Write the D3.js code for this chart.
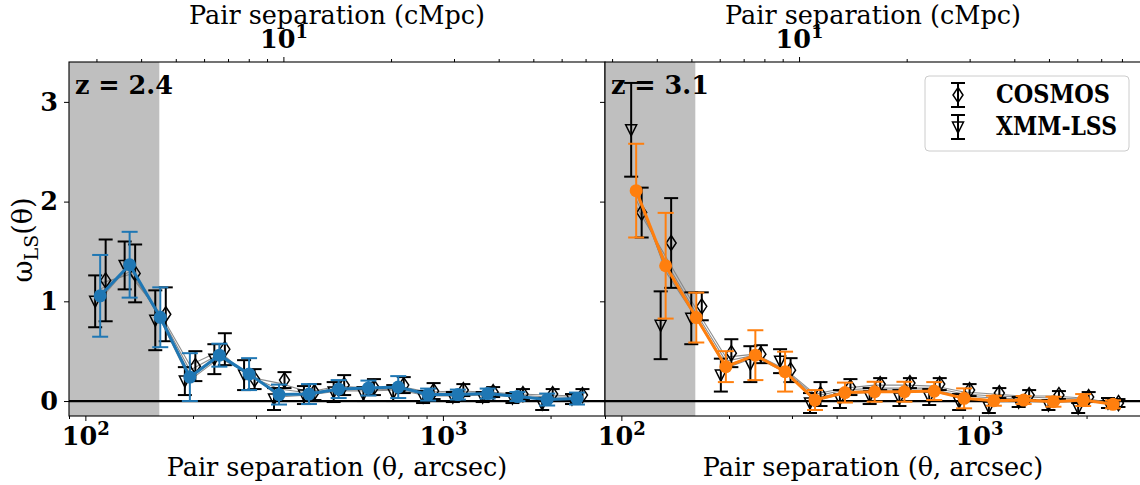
<!DOCTYPE html>
<html>
<head>
<meta charset="utf-8">
<script src="https://cdn.jsdelivr.net/npm/d3@7"></script>
<style>
  body { margin: 0; background: #fff; }
  svg { display: block; }
  text { font-family: "DejaVu Serif", serif; fill: #000; }
</style>
</head>
<body>
<svg id="chart" width="1140" height="485"></svg>
<script>
// Angular bin centres (arcsec), shared by both redshift panels
const arcsec = [110, 133, 162, 196, 237, 287, 348, 422, 511, 619, 750, 909, 1101, 1334, 1616, 1957, 2371];

// z = 2.4 : combined estimate, per-field estimates and individual realisations
const w24      = [1.055, 1.367, 0.84, 0.24, 0.46, 0.27, 0.065, 0.07, 0.12, 0.13, 0.14, 0.065, 0.065, 0.075, 0.045, 0.015, 0.025];
const w24Err   = [0.41, 0.33, 0.30, 0.24, 0.115, 0.16, 0.10, 0.10, 0.09, 0.075, 0.11, 0.06, 0.05, 0.05, 0.045, 0.06, 0.06];
const cosmos24    = [1.21, 1.28, 0.87, 0.35, 0.52, 0.22, 0.21, 0.09, 0.16, 0.14, 0.16, 0.10, 0.11, 0.09, 0.07, 0.07, 0.06];
const cosmos24Err = [0.41, 0.29, 0.27, 0.15, 0.16, 0.10, 0.08, 0.08, 0.10, 0.08, 0.08, 0.08, 0.06, 0.05, 0.05, 0.05, 0.06];
const xmm24       = [1.00, 1.36, 0.81, 0.20, 0.42, 0.26, 0.02, 0.06, 0.09, 0.07, 0.08, 0.04, 0.04, 0.04, 0.03, -0.03, 0.02];
const xmm24Err    = [0.26, 0.24, 0.30, 0.14, 0.15, 0.15, 0.11, 0.09, 0.10, 0.07, 0.08, 0.06, 0.05, 0.05, 0.05, 0.06, 0.05];
const runs24 = [
  [1.18, 1.27, 0.88, 0.36, 0.50, 0.24, 0.18, 0.09, 0.15, 0.13, 0.15, 0.09, 0.10, 0.09, 0.07, 0.06, 0.05],
  [1.12, 1.30, 0.86, 0.31, 0.47, 0.25, 0.12, 0.08, 0.13, 0.12, 0.14, 0.08, 0.08, 0.08, 0.06, 0.04, 0.04],
  [1.08, 1.34, 0.83, 0.27, 0.44, 0.27, 0.07, 0.07, 0.11, 0.11, 0.12, 0.06, 0.06, 0.07, 0.05, 0.02, 0.03],
  [1.02, 1.36, 0.82, 0.21, 0.43, 0.28, 0.04, 0.06, 0.10, 0.10, 0.11, 0.05, 0.05, 0.06, 0.04, 0.01, 0.02]
];

// z = 3.1
const w31      = [2.11, 1.357, 0.837, 0.345, 0.46, 0.295, 0.01, 0.085, 0.093, 0.093, 0.10, 0.027, 0.003, 0.01, -0.007, 0.01, -0.033];
const w31Err   = [0.47, 0.53, 0.25, 0.155, 0.25, 0.20, 0.10, 0.10, 0.10, 0.10, 0.09, 0.10, 0.05, 0.04, 0.05, 0.06, 0.04];
const cosmos31    = [1.89, 1.585, 0.95, 0.48, 0.47, 0.31, 0.07, 0.14, 0.17, 0.18, 0.17, 0.11, 0.08, 0.06, 0.06, 0.04, -0.02];
const cosmos31Err = [0.25, 0.45, 0.14, 0.14, 0.09, 0.12, 0.12, 0.08, 0.06, 0.05, 0.06, 0.06, 0.05, 0.05, 0.04, 0.05, 0.04];
const xmm31       = [2.72, 0.76, 0.83, 0.26, 0.37, 0.40, -0.02, 0.02, 0.05, 0.03, 0.04, -0.01, -0.06, -0.01, -0.04, -0.07, -0.02];
const xmm31Err    = [0.47, 0.34, 0.26, 0.165, 0.18, 0.12, 0.10, 0.09, 0.08, 0.08, 0.08, 0.08, 0.06, 0.05, 0.05, 0.05, 0.05];
const runs31 = [
  [1.95, 1.45, 0.92, 0.44, 0.47, 0.32, 0.07, 0.13, 0.16, 0.16, 0.15, 0.09, 0.07, 0.05, 0.05, 0.03, -0.02],
  [2.02, 1.40, 0.88, 0.40, 0.46, 0.31, 0.05, 0.11, 0.13, 0.13, 0.13, 0.07, 0.05, 0.04, 0.03, 0.02, -0.02],
  [2.08, 1.33, 0.85, 0.36, 0.45, 0.30, 0.03, 0.09, 0.11, 0.11, 0.11, 0.05, 0.03, 0.02, 0.01, 0.01, -0.03],
  [2.15, 1.30, 0.83, 0.33, 0.44, 0.29, 0.01, 0.07, 0.09, 0.09, 0.09, 0.03, 0.01, 0.01, -0.01, 0.00, -0.03]
];

// Axis settings
const thetaRange = [90, 2840];          // arcsec
const shadeLimit = 161;                 // arcsec, small-scale exclusion
const yRange = [-0.15, 3.4];
const yTicks = [0, 1, 2, 3];
const minorMultipliers = [2, 3, 4, 5, 6, 7, 8, 9];
// arcsec corresponding to 10 cMpc at each redshift
const arcsecPer10cMpc = { "2.4": 358, "3.1": 314 };

const panels = [
  { z: "2.4", mean: w24, meanErr: w24Err, cosmos: cosmos24, cosmosErr: cosmos24Err, xmm: xmm24, xmmErr: xmm24Err, runs: runs24, color: "#1f77b4", x0: 69, x1: 605, yLabels: true },
  { z: "3.1", mean: w31, meanErr: w31Err, cosmos: cosmos31, cosmosErr: cosmos31Err, xmm: xmm31, xmmErr: xmm31Err, runs: runs31, color: "#ff7f0e", x0: 605, x1: 1141, yLabels: false }
];

const FS = 25.5;      // base font size
const svg = d3.select("#chart");
const plotTop = 62, plotBottom = 416;
const y = d3.scaleLinear().domain(yRange).range([plotBottom, plotTop]);

function logTicks(domain) {
  const out = { major: [], minor: [] };
  for (let e = -2; e <= 5; e++) {
    const p = Math.pow(10, e);
    if (p >= domain[0] && p <= domain[1]) out.major.push(p);
    minorMultipliers.forEach(m => {
      const v = m * p;
      if (v >= domain[0] && v <= domain[1]) out.minor.push(v);
    });
  }
  return out;
}

function powerLabel(sel, base, exp) {
  sel.text(null);
  sel.append("tspan").text(base);
  sel.append("tspan").attr("dy", -10).attr("font-size", 18).text(exp);
}

const diamondPath = "M0,-7.5L5,0L0,7.5L-5,0Z";
const trianglePath = "M-5.5,-5L5.5,-5L0,6Z";

function errorBars(g, xs, vals, errs, color, dx, cap, width) {
  const idx = d3.range(vals.length);
  const eb = g.append("g").attr("stroke", color).attr("stroke-width", width).attr("fill", "none");
  eb.selectAll("line.v").data(idx).join("line").attr("class", "v")
    .attr("x1", i => xs(arcsec[i]) + dx).attr("x2", i => xs(arcsec[i]) + dx)
    .attr("y1", i => y(vals[i] - errs[i])).attr("y2", i => y(vals[i] + errs[i]));
  eb.selectAll("line.lo").data(idx).join("line").attr("class", "lo")
    .attr("x1", i => xs(arcsec[i]) + dx - cap).attr("x2", i => xs(arcsec[i]) + dx + cap)
    .attr("y1", i => y(vals[i] - errs[i])).attr("y2", i => y(vals[i] - errs[i]));
  eb.selectAll("line.hi").data(idx).join("line").attr("class", "hi")
    .attr("x1", i => xs(arcsec[i]) + dx - cap).attr("x2", i => xs(arcsec[i]) + dx + cap)
    .attr("y1", i => y(vals[i] + errs[i])).attr("y2", i => y(vals[i] + errs[i]));
}

panels.forEach(p => {
  const x = d3.scaleLog().domain(thetaRange).range([p.x0, p.x1]);
  const f = 10 / arcsecPer10cMpc[p.z];
  const xTop = d3.scaleLog().domain([thetaRange[0] * f, thetaRange[1] * f]).range([p.x0, p.x1]);
  const g = svg.append("g");
  const clipId = "clip" + p.z.replace(".", "");
  g.append("clipPath").attr("id", clipId).append("rect")
    .attr("x", p.x0).attr("y", plotTop).attr("width", p.x1 - p.x0).attr("height", plotBottom - plotTop);

  const plot = g.append("g").attr("clip-path", `url(#${clipId})`);
  // excluded small scales
  plot.append("rect").attr("x", x(thetaRange[0])).attr("y", plotTop)
    .attr("width", x(shadeLimit) - x(thetaRange[0])).attr("height", plotBottom - plotTop)
    .attr("fill", "#bfbfbf");
  // zero line
  plot.append("line").attr("x1", p.x0).attr("x2", p.x1).attr("y1", y(0)).attr("y2", y(0))
    .attr("stroke", "#000").attr("stroke-width", 2.2);

  // individual realisations
  const line = d3.line().x((d, i) => x(arcsec[i])).y(d => y(d));
  plot.selectAll("path.run").data(p.runs).join("path").attr("class", "run")
    .attr("d", line).attr("fill", "none").attr("stroke", "#7f7f7f").attr("stroke-width", 1.1).attr("opacity", 0.9);

  // per-field measurements
  errorBars(plot, x, p.xmm, p.xmmErr, "#000", -5, 7, 2);
  errorBars(plot, x, p.cosmos, p.cosmosErr, "#000", 5.5, 7, 2);
  plot.selectAll("path.xmm").data(d3.range(p.xmm.length)).join("path").attr("class", "xmm")
    .attr("d", trianglePath)
    .attr("transform", i => `translate(${x(arcsec[i]) - 5},${y(p.xmm[i])})`)
    .attr("fill", "none").attr("stroke", "#000").attr("stroke-width", 1.5);
  plot.selectAll("path.cos").data(d3.range(p.cosmos.length)).join("path").attr("class", "cos")
    .attr("d", diamondPath)
    .attr("transform", i => `translate(${x(arcsec[i]) + 5.5},${y(p.cosmos[i])})`)
    .attr("fill", "none").attr("stroke", "#000").attr("stroke-width", 1.5);

  // combined estimate
  errorBars(plot, x, p.mean, p.meanErr, p.color, 0, 8, 2);
  plot.append("path").datum(p.mean).attr("d", line)
    .attr("fill", "none").attr("stroke", p.color).attr("stroke-width", 3);
  plot.selectAll("circle.m").data(p.mean).join("circle").attr("class", "m")
    .attr("cx", (d, i) => x(arcsec[i])).attr("cy", d => y(d)).attr("r", 6.5)
    .attr("fill", p.color);

  // bottom axis
  const bt = logTicks(thetaRange);
  const bAxis = g.append("g").attr("transform", `translate(0,${plotBottom})`)
    .call(d3.axisBottom(x).tickValues(bt.major).tickSize(5).tickPadding(6).tickFormat(d => ""));
  bAxis.selectAll(".tick text").attr("font-size", FS).attr("font-weight", "bold")
    .attr("font-family", "DejaVu Serif").attr("dy", "0.71em")
    .each(function(d) { powerLabel(d3.select(this), "10", Math.round(Math.log10(d))); });
  g.append("g").attr("transform", `translate(0,${plotBottom})`)
    .call(d3.axisBottom(x).tickValues(bt.minor).tickSize(3).tickFormat(() => ""));

  // top axis (comoving separation)
  const tt = logTicks(xTop.domain());
  const tAxis = g.append("g").attr("transform", `translate(0,${plotTop})`)
    .call(d3.axisTop(xTop).tickValues(tt.major).tickSize(5).tickPadding(9).tickFormat(d => ""));
  tAxis.selectAll(".tick text").attr("font-size", FS).attr("font-weight", "bold")
    .attr("font-family", "DejaVu Serif")
    .each(function(d) { powerLabel(d3.select(this), "10", Math.round(Math.log10(d))); });
  g.append("g").attr("transform", `translate(0,${plotTop})`)
    .call(d3.axisTop(xTop).tickValues(tt.minor).tickSize(3).tickFormat(() => ""));

  // y axis
  const yAxis = g.append("g").attr("transform", `translate(${p.x0},0)`)
    .call(d3.axisLeft(y).tickValues(yTicks).tickSize(5).tickPadding(6)
      .tickFormat(p.yLabels ? d3.format("d") : () => ""));
  yAxis.selectAll(".tick text").attr("font-size", FS).attr("font-weight", "bold")
    .attr("font-family", "DejaVu Serif");

  g.selectAll(".domain").remove();
  g.selectAll(".tick line").attr("stroke", "#000").attr("stroke-width", 1);

  // frame
  g.append("rect").attr("x", p.x0).attr("y", plotTop).attr("width", p.x1 - p.x0).attr("height", plotBottom - plotTop)
    .attr("fill", "none").attr("stroke", "#000").attr("stroke-width", 1.1);

  // labels
  const cx = (p.x0 + p.x1) / 2;
  g.append("text").attr("x", cx).attr("y", 476).attr("text-anchor", "middle").attr("font-size", FS)
    .text("Pair separation (θ, arcsec)");
  g.append("text").attr("x", cx).attr("y", 24).attr("text-anchor", "middle").attr("font-size", FS)
    .text("Pair separation (cMpc)");
  g.append("text").attr("x", p.x0 + 6).attr("y", 94).attr("font-size", FS).attr("font-weight", "bold")
    .text("z = " + p.z);
});

// y-axis title
const yt = svg.append("text").attr("transform", "translate(32,240) rotate(-90)")
  .attr("text-anchor", "middle").attr("font-size", 27);
yt.append("tspan").text("ω");
yt.append("tspan").attr("font-size", 19).attr("dy", 6).text("LS");
yt.append("tspan").attr("dy", -6).text("(θ)");

// legend
const lg = svg.append("g");
lg.append("rect").attr("x", 925).attr("y", 76).attr("width", 204).attr("height", 75).attr("rx", 4)
  .attr("fill", "#fff").attr("fill-opacity", 0.8).attr("stroke", "#cccccc").attr("stroke-width", 1);
const legendItems = [
  { label: "COSMOS", marker: diamondPath, yPos: 95, width: 114 },
  { label: "XMM-LSS", marker: trianglePath, yPos: 127, width: 121 }
];
legendItems.forEach(it => {
  const e = lg.append("g").attr("stroke", "#000").attr("stroke-width", 2);
  e.append("line").attr("x1", 958).attr("x2", 958).attr("y1", it.yPos - 12).attr("y2", it.yPos + 12);
  e.append("line").attr("x1", 951).attr("x2", 965).attr("y1", it.yPos - 12).attr("y2", it.yPos - 12);
  e.append("line").attr("x1", 951).attr("x2", 965).attr("y1", it.yPos + 12).attr("y2", it.yPos + 12);
  lg.append("path").attr("d", it.marker).attr("transform", `translate(958,${it.yPos})`)
    .attr("fill", "none").attr("stroke", "#000").attr("stroke-width", 1.5);
  lg.append("text").attr("x", 996).attr("y", it.yPos + 8).attr("font-size", FS).attr("font-weight", "bold")
    .attr("textLength", it.width).attr("lengthAdjust", "spacingAndGlyphs")
    .text(it.label);
});
</script>
</body>
</html>
